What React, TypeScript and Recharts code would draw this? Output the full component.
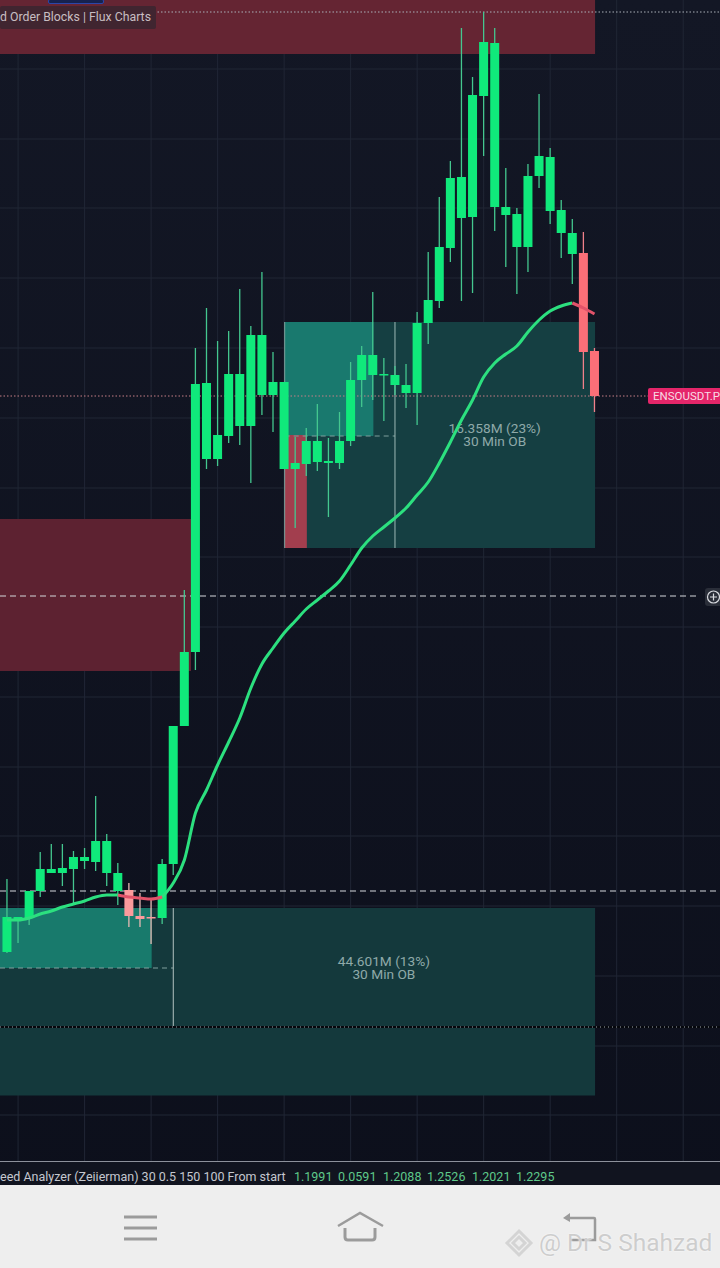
import { Bar, CartesianGrid, ComposedChart, Line, ReferenceArea, ReferenceDot, ReferenceLine, XAxis, YAxis } from 'recharts';

// candle values
const opens = [0.674, 0.707, 0.708, 0.735, 0.753, 0.753, 0.757, 0.765, 0.764, 0.753, 0.735, 0.736, 0.71, 0.709, 0.708, 0.762, 0.9, 0.974, 1.167, 1.167, 1.19, 1.2, 1.2, 1.231, 1.231, 1.157, 1.157, 1.162, 1.164, 1.163, 1.163, 1.185, 1.246, 1.251, 1.251, 1.241, 1.233, 1.233, 1.303, 1.325, 1.378, 1.408, 1.409, 1.53, 1.419, 1.411, 1.379, 1.379, 1.45, 1.415, 1.393, 1.372, 1.373, 1.275];
const closes = [0.709, 0.709, 0.735, 0.757, 0.757, 0.758, 0.769, 0.769, 0.785, 0.785, 0.753, 0.71, 0.707, 0.708, 0.762, 0.9, 0.974, 1.242, 1.243, 1.191, 1.252, 1.252, 1.291, 1.291, 1.244, 1.244, 1.163, 1.185, 1.185, 1.165, 1.185, 1.246, 1.271, 1.271, 1.252, 1.251, 1.241, 1.303, 1.326, 1.379, 1.448, 1.449, 1.531, 1.584, 1.583, 1.419, 1.412, 1.45, 1.47, 1.469, 1.416, 1.393, 1.274, 1.23];
const highs = [0.747, 0.709, 0.735, 0.774, 0.782, 0.782, 0.775, 0.778, 0.83, 0.792, 0.763, 0.743, 0.733, 0.726, 0.767, 0.9, 1.036, 1.278, 1.318, 1.285, 1.295, 1.337, 1.3, 1.354, 1.274, 1.244, 1.189, 1.198, 1.222, 1.188, 1.214, 1.264, 1.28, 1.334, 1.268, 1.26, 1.262, 1.314, 1.374, 1.429, 1.465, 1.598, 1.549, 1.614, 1.598, 1.458, 1.418, 1.462, 1.532, 1.478, 1.426, 1.407, 1.394, 1.278];
const lows = [0.673, 0.683, 0.701, 0.729, 0.753, 0.74, 0.723, 0.757, 0.755, 0.74, 0.721, 0.699, 0.699, 0.682, 0.702, 0.751, 0.9, 0.956, 1.157, 1.16, 1.183, 1.181, 1.143, 1.211, 1.194, 1.157, 1.098, 1.15, 1.155, 1.109, 1.157, 1.18, 1.219, 1.226, 1.205, 1.231, 1.218, 1.201, 1.282, 1.318, 1.364, 1.325, 1.333, 1.47, 1.395, 1.359, 1.332, 1.354, 1.438, 1.402, 1.368, 1.342, 1.237, 1.214];
const ema = [0.706, 0.706, 0.708, 0.712, 0.715, 0.719, 0.722, 0.725, 0.729, 0.731, 0.731, 0.729, 0.728, 0.727, 0.729, 0.743, 0.766, 0.813, 0.836, 0.861, 0.884, 0.908, 0.938, 0.962, 0.978, 0.993, 1.005, 1.017, 1.026, 1.035, 1.045, 1.061, 1.078, 1.09, 1.099, 1.108, 1.118, 1.131, 1.144, 1.163, 1.184, 1.206, 1.226, 1.249, 1.263, 1.272, 1.28, 1.294, 1.306, 1.315, 1.32, 1.323, 1.318, 1.312];
const emaFalling = [[10, 14], [51, 53]];

const priceGrid = [1.557, 1.487, 1.418, 1.348, 1.278, 1.208, 1.138, 1.069, 0.999, 0.929, 0.859, 0.79, 0.72, 0.65, 0.58, 0.511];
const timeGrid = [1, 7, 13, 19, 25, 31, 37, 43, 49, 55, 61];
const legendValues = ['1.1991', '0.0591', '1.2088', '1.2526', '1.2021', '1.2295'];
const legendValueLeft = [294, 338, 383, 427, 472, 516];

const W = 720;
const H = 1268;
const X_MIN = -0.6315;
const X_MAX = 64.32;
const ZONE_END = 53.05;

const isFalling = (i: number) => emaFalling.some(([a, b]) => i >= a && i <= b);
const data = opens.map((open, i) => ({
  i,
  open,
  close: closes[i],
  range: [lows[i], highs[i]],
  emaUp: !isFalling(i) || emaFalling.some(([a, b]) => i === a || i === b) ? ema[i] : null,
  emaDown: isFalling(i) ? ema[i] : null,
}));

function Candle(props: any) {
  const { x, y, width, height, payload } = props;
  const [low, high] = payload.range;
  const perPrice = height / (high - low);
  const top = y + (high - Math.max(payload.open, payload.close)) * perPrice;
  const bodyH = Math.max(Math.abs(payload.open - payload.close) * perPrice, 1.5);
  const down = payload.close < payload.open;
  const fill = down ? (payload.i < 20 ? '#fb9a9c' : '#fb6f78') : '#10e97b';
  const wick = down ? (payload.i < 20 ? '#e8b9b4' : '#f0808a') : '#44c78f';
  const cx = x + width / 2;
  return (
    <g>
      <line x1={cx} x2={cx} y1={y} y2={y + height} stroke={wick} strokeWidth={1.3} />
      <rect x={x} y={top} width={width} height={bodyH} fill={fill} />
    </g>
  );
}

// two line order block caption, anchored on a ReferenceDot
const zoneCaption = (first: string, second: string) => (props: any) => (
  <text x={props.cx} y={props.cy} textAnchor="middle" fill="#8fa9a9" fontSize={13.7} fontFamily="Roboto">
    <tspan x={props.cx}>{first}</tspan>
    <tspan x={props.cx} dy={13}>{second}</tspan>
  </text>
);

const LINE_Z = 150;

export default function App() {
  return (
    <div style={{ position: 'relative', width: W, height: H, overflow: 'hidden', background: 'linear-gradient(#131725, #0c0f1b)' }}>
      <style>{'body{margin:0}'}</style>
      <ComposedChart width={W} height={H} data={data} margin={{ top: 0, right: 0, bottom: 0, left: 0 }}>
        <XAxis dataKey="i" type="number" domain={[X_MIN, X_MAX]} hide allowDataOverflow />
        <YAxis type="number" domain={[0.358, 1.626]} hide allowDataOverflow width={0} />

        <CartesianGrid stroke="#202635" horizontalValues={priceGrid} verticalValues={timeGrid} />

        <ReferenceArea x1={X_MIN} x2={ZONE_END} y1={1.572} y2={1.626} fill="#652533" fillOpacity={1} stroke="none" />
        <ReferenceArea x1={X_MIN} x2={16.6} y1={0.955} y2={1.107} fill="#5d2231" fillOpacity={1} stroke="none" />
        <ReferenceArea x1={25.05} x2={ZONE_END} y1={1.078} y2={1.304} fill="#153f42" fillOpacity={1} stroke="none" />
        <ReferenceArea x1={25.05} x2={33.05} y1={1.19} y2={1.304} fill="#19796e" fillOpacity={1} stroke="none" />
        <ReferenceArea x1={25.05} x2={27.05} y1={1.078} y2={1.191} fill="#a23e4e" fillOpacity={1} stroke="none" />
        <ReferenceArea x1={X_MIN} x2={ZONE_END} y1={0.5305} y2={0.718} fill="#14393c" fillOpacity={1} stroke="none" />
        <ReferenceArea x1={X_MIN} x2={13.05} y1={0.658} y2={0.718} fill="#187a6c" fillOpacity={1} stroke="none" />

        <ReferenceLine zIndex={LINE_Z} segment={[{ x: 25.05, y: 1.19 }, { x: 35, y: 1.19 }]} stroke="#7f9f9c" strokeDasharray="5 4" />
        <ReferenceLine zIndex={LINE_Z} segment={[{ x: X_MIN, y: 0.658 }, { x: 15, y: 0.658 }]} stroke="#7f9f9c" strokeDasharray="5 4" />
        <ReferenceLine zIndex={LINE_Z} segment={[{ x: 35, y: 1.078 }, { x: 35, y: 1.304 }]} stroke="#9db9b5" />
        <ReferenceLine zIndex={LINE_Z} segment={[{ x: 25.05, y: 1.078 }, { x: 25.05, y: 1.304 }]} stroke="#7fa29d" />
        <ReferenceLine zIndex={LINE_Z} segment={[{ x: 15, y: 0.599 }, { x: 15, y: 0.718 }]} stroke="#b4c4c1" />

        <ReferenceLine zIndex={LINE_Z} y={1.614} stroke="#aab0b8" strokeDasharray="1.5 2" />
        <ReferenceLine zIndex={LINE_Z} y={1.23} stroke="#c77f86" strokeDasharray="1.5 2" />
        <ReferenceLine zIndex={LINE_Z} segment={[{ x: X_MIN, y: 1.03 }, { x: 62.5, y: 1.03 }]} stroke="#d5d8dc" strokeDasharray="6 4" />
        <ReferenceLine zIndex={LINE_Z} y={0.735} stroke="#d5d8dc" strokeDasharray="6 4" />
        <ReferenceLine zIndex={LINE_Z} y={0.599} stroke="#05070c" strokeWidth={2} />
        <ReferenceLine zIndex={LINE_Z} y={0.599} stroke="#a5abb3" strokeDasharray="1 3" />

        <ReferenceDot zIndex={LINE_Z} x={44} y={1.193} shape={zoneCaption('16.358M (23%)', '30 Min OB')} />
        <ReferenceDot zIndex={LINE_Z} x={34} y={0.66} shape={zoneCaption('44.601M (13%)', '30 Min OB')} />

        <Bar dataKey="range" barSize={9} shape={<Candle />} isAnimationActive={false} />
        <Line dataKey="emaUp" type="monotone" stroke="#2ce07f" strokeWidth={3} dot={false} activeDot={false} connectNulls={false} isAnimationActive={false} />
        <Line dataKey="emaDown" type="monotone" stroke="#e2536a" strokeWidth={3} dot={false} activeDot={false} connectNulls={false} isAnimationActive={false} />
      </ComposedChart>

      {/* indicator title, top left */}
      <div style={{ position: 'absolute', left: 48, top: -1, width: 54, height: 3, background: '#16224f', border: '1px solid #2c46a8', borderRadius: 2 }} />
      <div style={{ position: 'absolute', left: 0, top: 6, width: 156, height: 23, background: '#402530', borderRadius: 2, color: '#c8bec2', font: '12.3px/23px Roboto', whiteSpace: 'nowrap', overflow: 'hidden' }}>
        d Order Blocks | Flux Charts
      </div>

      {/* last price tag */}
      <div style={{ position: 'absolute', left: 648, top: 388, width: 80, height: 16, background: '#e5266a', borderRadius: 2, color: '#f8dbe5', font: '11.5px/16px Roboto', paddingLeft: 5, whiteSpace: 'nowrap' }}>
        ENSOUSDT.P
      </div>

      {/* crosshair button */}
      <svg style={{ position: 'absolute', left: 704, top: 587 }} width={16} height={20}>
        <rect x={1} y={1} width={17} height={18} rx={3} fill="#2a2e39" />
        <circle cx={9.5} cy={10} r={6} fill="none" stroke="#d9dbe0" strokeWidth={1.2} />
        <path d="M9.5 6.5v7M6 10h7" stroke="#d9dbe0" strokeWidth={1.2} />
      </svg>

      {/* volume analyzer legend */}
      <div style={{ position: 'absolute', left: 0, top: 1161, width: W, height: 24, background: '#11141f', borderTop: '1px solid #8d919b', boxSizing: 'border-box', font: '12.5px/30px Roboto', color: '#c5c8cf', whiteSpace: 'nowrap' }}>
        eed Analyzer (Zeiierman) 30 0.5 150 100 From start
        {legendValues.map((v, n) => (
          <span key={v} style={{ position: 'absolute', left: legendValueLeft[n], top: 0, color: '#5fc98a' }}>{v}</span>
        ))}
      </div>

      {/* phone navigation bar */}
      <div style={{ position: 'absolute', left: 0, top: 1185, width: W, height: 83, background: '#eeeeee' }}>
        <svg width={W} height={83} style={{ position: 'absolute', left: 0, top: 0 }}>
          <path d="M124 32h33M124 43h33M124 54h33" stroke="#9b9b9b" strokeWidth={3} fill="none" />
          <path d="M338 41l22-13 23 13" stroke="#9b9b9b" strokeWidth={2.5} fill="none" />
          <path d="M345 43v9q0 3 3 3h24q3 0 3-3v-9" stroke="#9b9b9b" strokeWidth={3} fill="none" />
          <path d="M566 33h28q1 0 1 1v21h-25" stroke="#9b9b9b" strokeWidth={2.5} fill="none" />
          <path d="M570 28l-7 5 7 4z" fill="#9b9b9b" />
          <g fill="none" stroke="#d4d4d4" strokeWidth={3}>
            <path d="M519 46l12 12-12 12-12-12z" />
            <path d="M519 52l6 6-6 6-6-6z" />
          </g>
        </svg>
        <div style={{ position: 'absolute', left: 539, top: 44, color: '#cdcdcd', font: '24.5px/28px Roboto', textShadow: '0 0 2px #fff', whiteSpace: 'nowrap' }}>
          @ Dr S Shahzad
        </div>
      </div>
    </div>
  );
}
